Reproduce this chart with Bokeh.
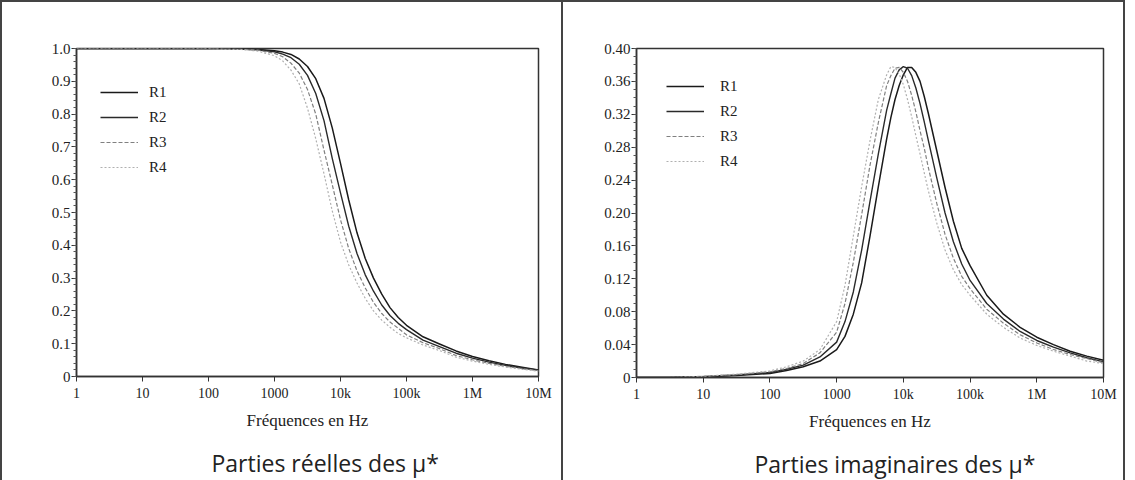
from bokeh.plotting import figure
from bokeh.models import Range1d, FixedTicker, PrintfTickFormatter, Legend, LegendItem, Title
from bokeh.layouts import row
from bokeh.embed import file_html
from bokeh.resources import INLINE

# ---------------- data ----------------
freq_hz = [1, 3.16, 10, 31.6, 100, 178, 316, 562, 1000, 1334, 1778, 2371, 3162, 4217,
           5623, 7499, 10000, 13335, 17783, 23714, 31623, 42170, 56234, 74989, 100000,
           177828, 316228, 562341, 1000000, 1778279, 3162278, 5623413, 10000000]

# the imaginary-part curves are read a little more densely around the peak
freq_imag_hz = [1, 3.16, 10, 31.6, 100, 178, 316, 562, 1000, 1334, 1778, 2371, 3162, 4217,
                5623, 6494, 7499, 8660, 10000, 11548, 13335, 15399, 17783, 20535, 23714,
                31623, 42170, 56234, 74989, 100000,
                177828, 316228, 562341, 1000000, 1778279, 3162278, 5623413, 10000000]

series_names = ["R1", "R2", "R3", "R4"]

real_r1 = [1.0, 1.0, 1.0, 1.0, 1.0, 1.0, 0.999, 0.997, 0.993, 0.989, 0.982, 0.968, 0.945, 0.908,
           0.848, 0.758, 0.65, 0.538, 0.438, 0.36, 0.30, 0.251, 0.21, 0.18, 0.156,
           0.121, 0.099, 0.078, 0.061, 0.048, 0.037, 0.028, 0.020]
real_r2 = [1.0, 1.0, 1.0, 1.0, 1.0, 1.0, 0.998, 0.996, 0.99, 0.983, 0.972, 0.952, 0.918, 0.863,
           0.78, 0.665, 0.56, 0.458, 0.375, 0.31, 0.26, 0.218, 0.186, 0.162, 0.143,
           0.111, 0.091, 0.071, 0.056, 0.044, 0.034, 0.026, 0.019]
real_r3 = [1.0, 1.0, 1.0, 1.0, 1.0, 0.999, 0.998, 0.995, 0.985, 0.975, 0.955, 0.925, 0.875, 0.80,
           0.69, 0.585, 0.478, 0.39, 0.322, 0.27, 0.226, 0.192, 0.166, 0.147, 0.127,
           0.103, 0.085, 0.064, 0.051, 0.040, 0.031, 0.024, 0.018]
real_r4 = [1.0, 1.0, 1.0, 1.0, 1.0, 0.998, 0.997, 0.992, 0.978, 0.962, 0.934, 0.892, 0.818, 0.725,
           0.618, 0.505, 0.41, 0.34, 0.285, 0.238, 0.20, 0.172, 0.15, 0.131, 0.118,
           0.096, 0.079, 0.059, 0.047, 0.037, 0.029, 0.022, 0.016]

imag_r1 = [0.0, 0.0, 0.001, 0.0025, 0.005, 0.0085, 0.013, 0.020, 0.034, 0.050, 0.077, 0.115, 0.172, 0.232,
           0.29, 0.316, 0.338, 0.355, 0.368, 0.377, 0.377, 0.371, 0.36, 0.342, 0.321,
           0.276, 0.231, 0.19, 0.157, 0.136,
           0.10, 0.077, 0.061, 0.049, 0.04, 0.032, 0.026, 0.021]
imag_r2 = [0.0, 0.0, 0.001, 0.003, 0.006, 0.01, 0.015, 0.025, 0.043, 0.068, 0.104, 0.155, 0.214, 0.272,
           0.325, 0.345, 0.364, 0.374, 0.378, 0.376, 0.367, 0.352, 0.333, 0.311, 0.288,
           0.243, 0.20, 0.165, 0.138, 0.118,
           0.09, 0.071, 0.056, 0.045, 0.037, 0.03, 0.024, 0.019]
imag_r3 = [0.0, 0.0, 0.0015, 0.0035, 0.007, 0.011, 0.017, 0.030, 0.055, 0.090, 0.14, 0.198, 0.258, 0.31,
           0.355, 0.367, 0.376, 0.377, 0.371, 0.36, 0.343, 0.323, 0.30, 0.279, 0.255,
           0.212, 0.174, 0.145, 0.123, 0.108,
           0.083, 0.066, 0.052, 0.042, 0.034, 0.028, 0.023, 0.018]
imag_r4 = [0.0, 0.0, 0.0015, 0.004, 0.008, 0.013, 0.020, 0.034, 0.068, 0.112, 0.172, 0.232, 0.288, 0.338,
           0.368, 0.378, 0.377, 0.369, 0.356, 0.338, 0.317, 0.294, 0.272, 0.249, 0.227,
           0.188, 0.155, 0.131, 0.113, 0.10,
           0.077, 0.061, 0.048, 0.039, 0.032, 0.026, 0.02, 0.017]

x_ticks = [1, 10, 100, 1000, 10000, 100000, 1000000, 10000000]
x_tick_labels = ["1", "10", "100", "1000", "10k", "100k", "1M", "10M"]
real_ticks = [0, 0.1, 0.2, 0.3, 0.4, 0.5, 0.6, 0.7, 0.8, 0.9, 1.0]
imag_ticks = [0, 0.04, 0.08, 0.12, 0.16, 0.20, 0.24, 0.28, 0.32, 0.36, 0.40]

x_label = "Fréquences en Hz"
title_real = "Parties réelles des µ*"
title_imag = "Parties imaginaires des µ*"

# ---------------- styles ----------------
SERIF = "Liberation Serif"
LINE_STYLES = [
    dict(line_color="#1a1a1a", line_width=1.5, line_dash="solid"),
    dict(line_color="#2a2a2a", line_width=1.4, line_dash="solid"),
    dict(line_color="#808080", line_width=1.2, line_dash="4 2"),
    dict(line_color="#b0b0b0", line_width=1.2, line_dash="2 2"),
]


def make_panel(xs, series, y_max, y_ticks, y_fmt, minor_step, title, geom, legend_xy, border_css):
    (bl, fw, br, bt, fh, bb, title_offset, standoff) = geom
    p = figure(x_axis_type="log", frame_width=fw, frame_height=fh,
               min_border_left=bl, min_border_right=br, min_border_top=bt, min_border_bottom=bb,
               x_range=Range1d(1, 1e7), y_range=Range1d(0, y_max),
               output_backend="svg", toolbar_location=None)
    p.styles = border_css
    p.background_fill_color = "white"
    p.border_fill_color = "white"
    p.grid.visible = False
    p.outline_line_color = "#333333"
    p.outline_line_width = 1.5

    items = []
    for name, vals, st in zip(series_names, series, LINE_STYLES):
        r = p.line(xs, vals, line_join="round", **st)
        items.append(LegendItem(label=name, renderers=[r]))

    leg = Legend(items=items, location=legend_xy, padding=0, spacing=5,
                 glyph_width=38, glyph_height=20, label_height=20, label_standoff=standoff,
                 label_text_font=SERIF, label_text_font_size="15px", label_text_color="#222222",
                 background_fill_alpha=0, border_line_alpha=0)
    p.add_layout(leg)

    xa = p.xaxis[0]
    xa.ticker = FixedTicker(ticks=x_ticks, minor_ticks=[])
    xa.major_label_overrides = {t: l for t, l in zip(x_ticks, x_tick_labels)}
    xa.axis_label = x_label
    ya = p.yaxis[0]
    n_minor = int(round(y_max / minor_step))
    ya.ticker = FixedTicker(ticks=y_ticks, minor_ticks=[i * minor_step for i in range(n_minor + 1)])
    ya.formatter = PrintfTickFormatter(format=y_fmt)
    ya.major_label_overrides = {0: "0"}
    for ax in (xa, ya):
        ax.axis_line_color = "#333333"
        ax.axis_line_width = 1.5
        ax.major_tick_line_color = "#333333"
        ax.minor_tick_line_color = "#555555"
        ax.major_tick_out = 5
        ax.major_tick_in = 0
        ax.minor_tick_out = 3
        ax.minor_tick_in = 0
        ax.major_label_text_font = SERIF
        ax.major_label_text_color = "#222222"
        ax.axis_label_text_font = SERIF
        ax.axis_label_text_font_size = "17px"
        ax.axis_label_text_font_style = "normal"
        ax.axis_label_text_color = "#222222"
    xa.major_label_text_font_size = "14px"
    ya.major_label_text_font_size = "15px"
    xa.major_label_standoff = 4
    xa.axis_label_standoff = 7
    ya.major_label_standoff = 1

    p.add_layout(Title(text=title, align="left", offset=title_offset, standoff=24,
                       text_font="Open Sans", text_font_size="23px", text_font_style="normal",
                       text_color="#222222"), "below")
    return p


left = make_panel(freq_hz, [real_r1, real_r2, real_r3, real_r4], 1.0, real_ticks, "%.1f", 0.02,
                  title_real, (74, 460, 25, 46, 326, 92, 135, 11), (24, 199),
                  {"border-top": "2px solid #444", "border-left": "2px solid #444"})
right = make_panel(freq_imag_hz, [imag_r1, imag_r2, imag_r3, imag_r4], 0.40, imag_ticks, "%.2f", 0.01,
                   title_imag, (73, 463, 24, 41, 327, 96, 118, 16), (30, 206),
                   {"border-top": "2px solid #444", "border-left": "2px solid #444",
                    "border-right": "2px solid #444"})

layout = row(left, right)
open("out.html", "w").write(file_html(layout, INLINE))
